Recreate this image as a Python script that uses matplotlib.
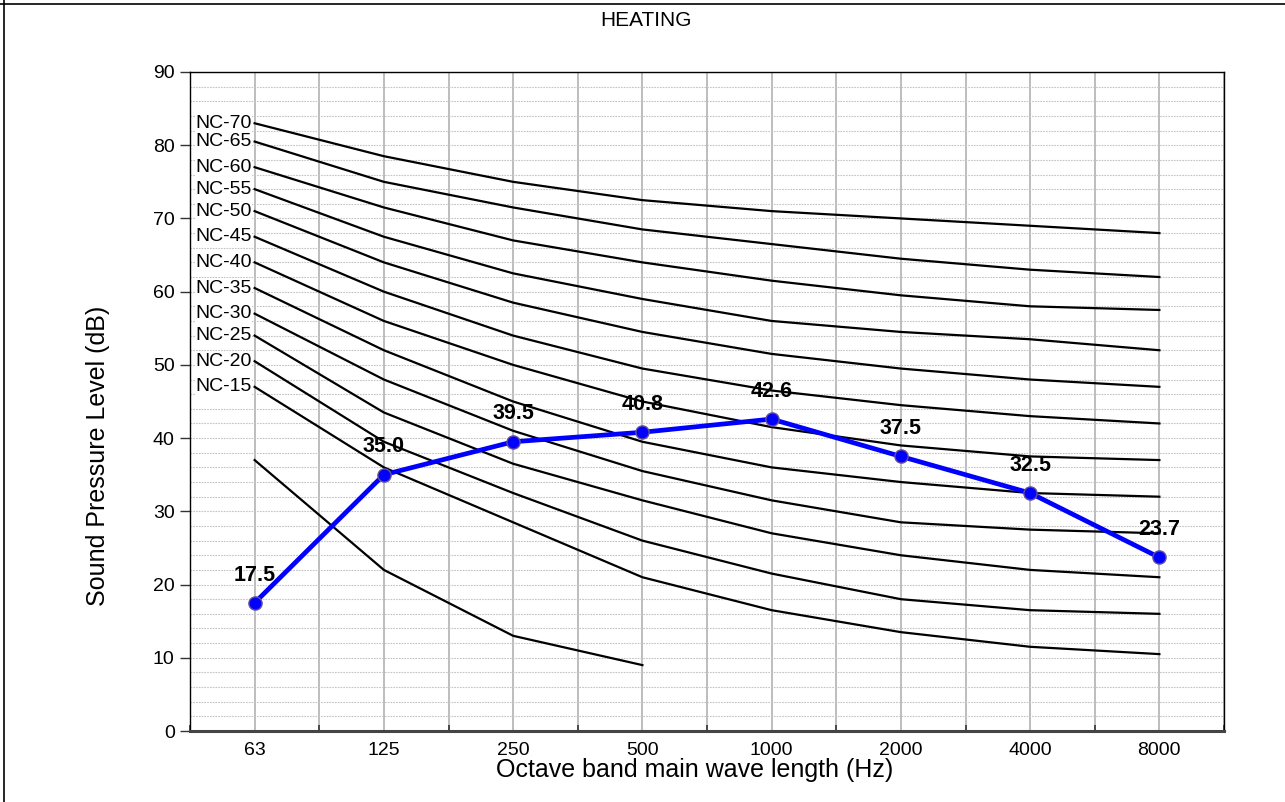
import matplotlib
matplotlib.use("Agg")
import matplotlib.pyplot as plt
from matplotlib.lines import Line2D
from matplotlib.ticker import FixedLocator, MultipleLocator

plt.rcParams['font.family'] = ['Liberation Sans', 'DejaVu Sans']

# ---- data ----
freq_labels = ['63', '125', '250', '500', '1000', '2000', '4000', '8000']
heating = [17.5, 35.0, 39.5, 40.8, 42.6, 37.5, 32.5, 23.7]

nc70 = [83, 78.5, 75, 72.5, 71, 70, 69, 68]
nc65 = [80.5, 75, 71.5, 68.5, 66.5, 64.5, 63, 62]
nc60 = [77, 71.5, 67, 64, 61.5, 59.5, 58, 57.5]
nc55 = [74, 67.5, 62.5, 59, 56, 54.5, 53.5, 52]
nc50 = [71, 64, 58.5, 54.5, 51.5, 49.5, 48, 47]
nc45 = [67.5, 60, 54, 49.5, 46.5, 44.5, 43, 42]
nc40 = [64, 56, 50, 45, 41.5, 39, 37.5, 37]
nc35 = [60.5, 52, 45, 39.5, 36, 34, 32.5, 32]
nc30 = [57, 48, 41, 35.5, 31.5, 28.5, 27.5, 27]
nc25 = [54, 43.5, 36.5, 31.5, 27, 24, 22, 21]
nc20 = [50.5, 39.5, 32.5, 26, 21.5, 18, 16.5, 16]
nc15 = [47, 36, 28.5, 21, 16.5, 13.5, 11.5, 10.5]
nc_low = [37, 22, 13, 9]

nc_names = ['NC-70', 'NC-65', 'NC-60', 'NC-55', 'NC-50', 'NC-45',
            'NC-40', 'NC-35', 'NC-30', 'NC-25', 'NC-20', 'NC-15']
nc_curves = [nc70, nc65, nc60, nc55, nc50, nc45, nc40, nc35, nc30, nc25, nc20, nc15]

title = 'HEATING'
xlabel = 'Octave band main wave length (Hz)'
ylabel = 'Sound Pressure Level (dB)'

# ---- figure ----
W, H = 1285, 802
fig = plt.figure(figsize=(W / 100, H / 100), dpi=100)
fig.patch.set_facecolor('white')

# frame lines (top and left)
fig.add_artist(Line2D([0, 1], [1 - 4 / H, 1 - 4 / H], transform=fig.transFigure, color='black', lw=1.2))
fig.add_artist(Line2D([4 / W, 4 / W], [0, 1], transform=fig.transFigure, color='black', lw=1.2))

L, R, T, B = 190, 1224, 72, 731
ax = fig.add_axes([L / W, 1 - B / H, (R - L) / W, (B - T) / H])

x = list(range(len(freq_labels)))
ax.set_xlim(-0.5, len(freq_labels) - 0.5)
ax.set_ylim(0, 90)

# grid
ax.yaxis.set_major_locator(MultipleLocator(10))
ax.yaxis.set_minor_locator(MultipleLocator(2))
ax.xaxis.set_major_locator(FixedLocator(x))
ax.xaxis.set_minor_locator(FixedLocator([i + 0.5 for i in range(-1, len(freq_labels))]))
ax.set_xticklabels(freq_labels)

ax.grid(True, which='both', axis='y', color='#c4c4c4', lw=0.8, ls=(0, (1.5, 1)), zorder=0)
ax.grid(True, which='both', axis='x', color='#b8b8b8', lw=1.3, ls='-', zorder=0)
ax.set_axisbelow(True)

ax.tick_params(axis='x', which='major', length=0, pad=8, labelsize=14)
ax.tick_params(axis='x', which='minor', direction='in', length=4, width=1.2, color='#333333')
ax.tick_params(axis='y', which='major', direction='out', length=7, width=1, pad=4, labelsize=14, color='#333333')
ax.tick_params(axis='y', which='minor', length=0)

for s in ['top', 'right', 'left']:
    ax.spines[s].set_color('black')
    ax.spines[s].set_linewidth(1.0)
ax.spines['bottom'].set_color('#444444')
ax.spines['bottom'].set_linewidth(2.2)

# NC curves
for name, vals in zip(nc_names, nc_curves):
    ax.plot(x[:len(vals)], vals, color='black', lw=1.6, zorder=3, solid_joinstyle='miter')
    ax.annotate(name, xy=(x[0], vals[0]), xytext=(-2, 0), textcoords='offset points',
                ha='right', va='center', fontsize=14, zorder=4,
                bbox=dict(boxstyle='square,pad=0.02', fc='white', ec='none'))
ax.plot(x[:len(nc_low)], nc_low, color='black', lw=1.6, zorder=3)

# heating series
ax.plot(x, heating, color='#0000ff', lw=3.4, zorder=5,
        marker='o', markersize=9.5, markerfacecolor='#0000ff',
        markeredgecolor='#6a4f9a', markeredgewidth=1.0)
for xi, v in zip(x, heating):
    ax.annotate(f'{v:.1f}', xy=(xi, v), xytext=(0, 20), textcoords='offset points',
                ha='center', va='center', fontsize=15.5, fontweight='bold', zorder=6)

# titles
fig.text(646 / W, 1 - 20 / H, title, ha='center', va='center', fontsize=15)
fig.text(695 / W, 1 - 770 / H, xlabel, ha='center', va='center', fontsize=18)
fig.text(98 / W, 1 - 456 / H, ylabel, ha='center', va='center', rotation=90, fontsize=18)

fig.savefig('out.png', dpi=100, facecolor='white')
